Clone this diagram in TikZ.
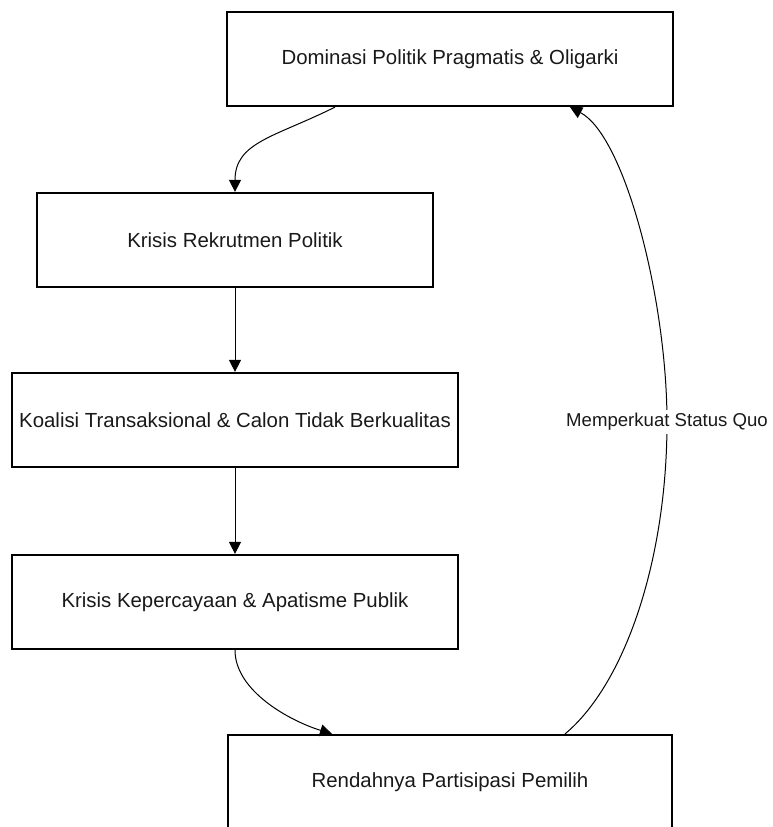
\documentclass[tikz,border=0pt]{standalone}
\usepackage{fontspec}
\setmainfont{Liberation Sans}
\usetikzlibrary{arrows.meta}

\begin{document}
\begin{tikzpicture}[x=1pt,y=-1pt,>={Triangle[length=12pt,width=12pt]},
	box/.style={draw,line width=2.2pt,minimum height=94pt,inner sep=0pt,
		font=\fontsize{20.4}{24}\selectfont,text=black!90},
	link/.style={->,line width=1pt},
	quolabel/.style={fill=white,inner sep=3pt,
		font=\fontsize{18.6}{22}\selectfont,text=black!90}]

	% Fix the page to the size of the reference
	\useasboundingbox (0,0) rectangle (772,827);

	% Draw the five boxes of the cycle
	\node[box,minimum width=446pt] (dominasi) at (450,59) {Dominasi Politik Pragmatis \& Oligarki};
	\node[box,minimum width=396pt] (rekrutmen) at (235,240) {Krisis Rekrutmen Politik};
	\node[box,minimum width=446pt] (koalisi) at (235,420) {Koalisi Transaksional \& Calon Tidak Berkualitas};
	\node[box,minimum width=446pt] (kepercayaan) at (235,602) {Krisis Kepercayaan \& Apatisme Publik};
	\node[box,minimum width=444pt] (partisipasi) at (450,782) {Rendahnya Partisipasi Pemilih};

	% Draw the downward chain
	\draw[link] ([xshift=-115pt]dominasi.south) .. controls +(-60,30) and +(0,-50) .. (rekrutmen.north);
	\draw[link] (rekrutmen.south) -- (koalisi.north);
	\draw[link] (koalisi.south) -- (kepercayaan.north);
	\draw[link] (kepercayaan.south) .. controls +(0,41) and +(-42,-13) .. ([xshift=-118pt]partisipasi.north);

	% Draw the feedback loop back to the top box
	\coordinate (balik) at (667,422);
	\draw[link] ([xshift=115pt]partisipasi.north) .. controls +(60,-50) and +(0,138) .. (balik)
		.. controls +(0,-122) and +(55,29) .. ([xshift=120pt]dominasi.south);

	% Label of the feedback loop
	\node[quolabel] (statusquo) at (balik) {Memperkuat Status Quo};

\end{tikzpicture}
\end{document}
